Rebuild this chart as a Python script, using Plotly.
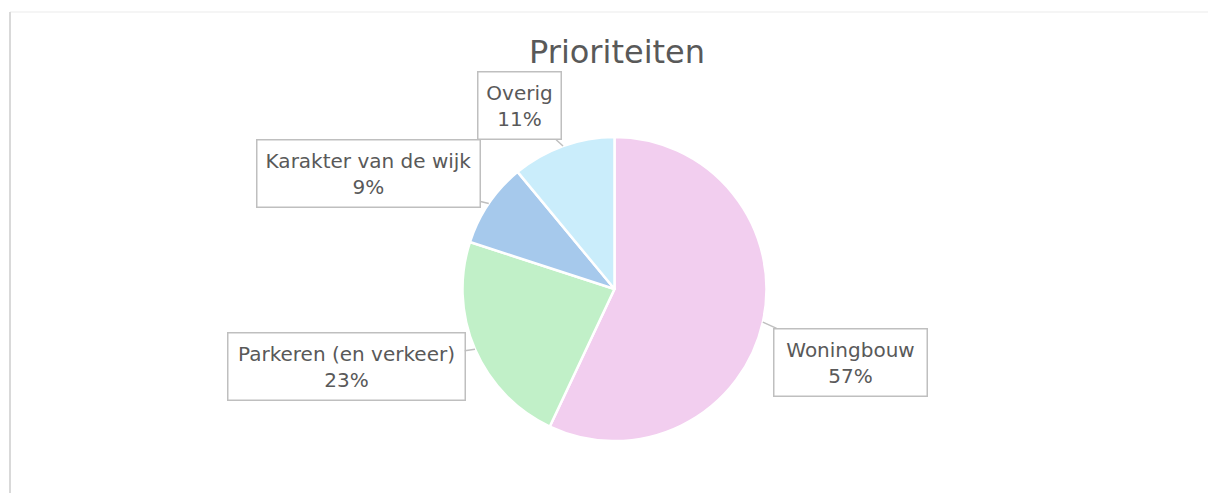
import math
import plotly.graph_objects as go

# --- Data ---
labels = ["Woningbouw", "Parkeren (en verkeer)", "Karakter van de wijk", "Overig"]
values = [57, 23, 9, 11]
colors = ["#F2CEEF", "#C1F0C8", "#A6C9EC", "#CAEDFB"]

# --- Style ---
W, H = 1208, 493
FONT = "DejaVu Sans"
TEXT_COLOR = "#595959"
BOX_COLOR = "#BFBFBF"
CX, CY, R = 614.5, 289, 152          # pie centre / radius in px

# callout box offsets (px, from slice edge) and box sizes
box_offsets = [(88, 40), (-129, 17), (-120, -30), (-44, -40)]
box_sizes = [(152, 66), (236, 66), (222, 66), (82, 66)]

fig = go.Figure()

fig.add_trace(go.Pie(
    labels=labels,
    values=values,
    marker=dict(colors=colors, line=dict(color="white", width=2.5)),
    sort=False,
    direction="clockwise",
    textinfo="none",
    hoverinfo="label+percent",
    showlegend=False,
    domain=dict(
        x=[(CX - R) / W, (CX + R) / W],
        y=[1 - (CY + R) / H, 1 - (CY - R) / H],
    ),
))

# --- Callout labels at each slice's mid-angle ---
total = sum(values)
cum = 0
annotations = []
for lab, val, (dx, dy), (bw, bh) in zip(labels, values, box_offsets, box_sizes):
    ang = 2 * math.pi * (cum + val / 2) / total
    cum += val
    tx = CX + R * math.sin(ang)
    ty = CY - R * math.cos(ang)
    pct = round(100 * val / total)
    annotations.append(dict(
        x=tx / W, y=1 - ty / H, xref="paper", yref="paper",
        text=f"{lab}<br>{pct}%",
        showarrow=True, ax=dx, ay=dy,
        arrowhead=0, arrowwidth=1.5, arrowcolor=BOX_COLOR, standoff=0,
        bgcolor="white", bordercolor=BOX_COLOR, borderwidth=1.5, borderpad=0,
        width=bw, height=bh,
        font=dict(family=FONT, size=20, color=TEXT_COLOR),
    ))

# title
annotations.append(dict(
    text="Prioriteiten", x=616.5 / W, y=1 - 52 / H, xref="paper", yref="paper",
    xanchor="center", yanchor="middle", showarrow=False,
    font=dict(family=FONT, size=32, color=TEXT_COLOR),
))

fig.update_layout(
    width=W, height=H,
    margin=dict(l=0, r=0, t=0, b=0),
    paper_bgcolor="white",
    plot_bgcolor="white",
    annotations=annotations,
    shapes=[
        dict(type="line", xref="paper", yref="paper",
             x0=10 / W, x1=1, y0=1 - 12 / H, y1=1 - 12 / H,
             line=dict(color="#EBEBEB", width=1)),
        dict(type="line", xref="paper", yref="paper",
             x0=10 / W, x1=10 / W, y0=1 - 12 / H, y1=0,
             line=dict(color="#D9D9D9", width=2)),
    ],
)

# drop the default body margin so the figure fills the window
fig.write_html("out.html", config={"displayModeBar": False},
               post_script="document.body.style.margin='0';")
